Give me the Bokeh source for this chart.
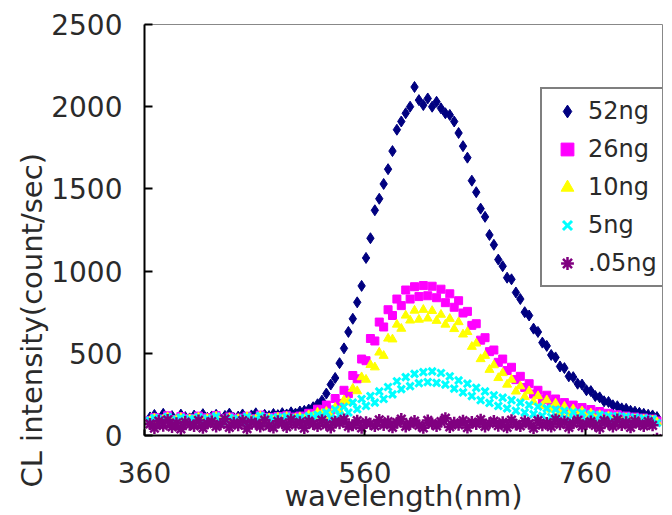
import math
from bokeh.plotting import figure
from bokeh.models import FixedTicker, Legend, LegendItem, Range1d, Title
from bokeh.embed import file_html
from bokeh.resources import INLINE

# wavelength sampling grid (nm)
wavelength = list(range(365, 826, 4))

ng52 = [110,125,98,132,105,118,96,127,112,104,
        121,99,130,108,116,126,101,119,133,107,
        115,128,104,122,135,110,126,118,131,124,
        136,128,141,133,146,150,158,172,190,212,
        255,310,350,440,530,630,710,810,910,1080,
        1200,1370,1440,1530,1620,1730,1860,1910,1960,2000,
        2120,2040,2010,2050,2000,2030,1990,1960,1950,1910,
        1840,1760,1690,1550,1480,1380,1330,1220,1160,1070,
        1030,960,950,870,830,750,730,650,630,565,
        545,490,475,420,410,360,355,315,310,275,
        270,240,232,208,204,184,178,165,162,150,
        145,138,132,126,122,112]

ng26 = [92,110,78,101,120,85,97,115,82,104,
        99,118,86,108,92,121,80,103,113,90,
        106,84,117,95,102,124,88,110,97,115,
        101,120,93,112,118,108,135,128,160,150,
        185,155,225,195,275,255,365,345,465,455,
        590,575,690,660,765,730,830,790,885,830,
        905,845,912,850,908,838,890,808,862,780,
        820,745,755,670,680,580,595,510,520,445,
        465,395,415,340,360,292,315,252,275,218,
        245,195,222,175,200,158,185,142,170,130,
        158,122,146,110,135,100,126,94,118,88,
        112,90,106,86,100,88]

ng10 = [88,104,80,97,112,84,95,108,79,100,
        94,111,83,102,90,115,78,99,107,86,
        101,82,113,92,98,118,85,106,93,110,
        97,114,88,105,112,100,124,115,140,132,
        145,118,170,150,215,205,285,270,355,340,
        430,415,505,485,590,585,675,650,730,700,
        760,705,765,712,758,698,735,675,710,648,
        690,615,630,540,560,465,485,400,428,350,
        380,310,340,268,300,235,270,205,240,180,
        215,158,195,140,176,125,160,112,148,100,
        135,95,125,92,118,88,112,86,106,84,
        100,82,97,84,93,82]

ng5 = [90,106,82,99,113,86,96,109,80,101,
       95,112,84,103,91,116,79,100,108,87,
       102,83,114,93,99,119,86,107,94,111,
       98,115,89,106,108,99,118,110,126,119,
       140,105,158,122,175,140,200,160,222,180,
       240,200,268,222,295,250,330,282,355,300,
       375,318,385,325,390,320,380,310,360,285,
       335,262,315,240,290,215,268,198,245,180,
       230,165,215,150,200,140,185,130,175,120,
       165,112,158,105,150,100,142,92,138,90,
       128,88,125,84,120,82,118,80,115,78,
       110,80,105,78,100,76]

ng005 = [70,45,88,60,95,52,75,40,82,66,
         58,92,47,73,85,55,68,99,50,77,
         63,90,42,80,71,55,94,60,48,86,
         74,52,97,65,80,45,88,70,58,93,
         66,49,84,75,98,55,62,90,47,80,
         72,58,95,64,85,50,78,100,55,70,
         88,62,47,92,73,58,84,105,52,77,
         65,90,48,82,70,96,55,74,88,60,
         80,50,93,67,58,86,72,45,91,63,
         76,54,98,68,83,49,74,92,57,70,
         85,61,46,90,72,55,97,64,80,50,
         88,70,58,84,62,-20]

labels = ["52ng", "26ng", "10ng", "5ng", ".05ng"]
x_ticks = [360, 560, 760]
y_ticks = [0, 500, 1000, 1500, 2000, 2500]

FONT = "DejaVu Sans"

p = figure(width=672, height=515, output_backend="svg", toolbar_location=None,
           x_range=Range1d(360, 830), y_range=Range1d(0, 2500),
           min_border_left=144, min_border_right=10, min_border_top=24,
           min_border_bottom=79)
p.background_fill_color = "white"
p.border_fill_color = "white"
p.outline_line_color = "#888888"
p.outline_line_width = 1
p.xgrid.visible = False
p.ygrid.visible = False

for ax in (p.xaxis[0], p.yaxis[0]):
    ax.axis_line_color = "black"
    ax.axis_line_width = 2
    ax.major_tick_line_color = "black"
    ax.major_tick_line_width = 2
    ax.minor_tick_line_color = None
    ax.major_tick_out = 0
    ax.major_label_text_font = FONT
    ax.major_label_text_font_size = "28px"
    ax.major_label_text_color = "#2a2a2a"
    ax.major_label_text_font_style = "normal"

p.xaxis.ticker = FixedTicker(ticks=x_ticks)
p.yaxis.ticker = FixedTicker(ticks=y_ticks)
p.xaxis.major_tick_in = 6
p.yaxis.major_tick_in = 8
p.xaxis.major_label_standoff = 26
p.yaxis.major_label_standoff = 22

p.xaxis.axis_label = "wavelength(nm)"
p.xaxis.axis_label_text_font = FONT
p.xaxis.axis_label_text_font_size = "29px"
p.xaxis.axis_label_text_font_style = "normal"
p.xaxis.axis_label_text_color = "#2a2a2a"
p.xaxis.axis_label_standoff = -7

r1 = p.scatter(wavelength, ng52, marker="diamond", size=11, color="#000080")
r2 = p.scatter(wavelength, ng26, marker="square", size=8, color="#FF00FF")
r3 = p.scatter(wavelength, ng10, marker="triangle", size=9, color="#FFFF00")
r4 = p.scatter(wavelength, ng5, marker="x", size=10, line_color="#00FFFF", line_width=3)
r5 = p.scatter(wavelength, ng005, marker="asterisk", size=12, line_color="#800080", line_width=2.5)

legend = Legend(items=[LegendItem(label=l, renderers=[r]) for l, r in
                       zip(labels, [r1, r2, r3, r4, r5])],
                location=(396, 148), padding=6, spacing=6,
                label_height=32, glyph_height=32, glyph_width=38,
                label_standoff=2, label_width=92,
                label_text_font=FONT, label_text_font_size="24px",
                label_text_color="#2a2a2a",
                border_line_color="black", border_line_width=2,
                background_fill_color="white", background_fill_alpha=1.0)
p.add_layout(legend, "center")

ytitle = Title(text="CL intensity(count/sec)", align="left", offset=-52,
               text_font=FONT, text_font_size="29px", text_font_style="normal",
               text_color="#2a2a2a", standoff=0)
p.add_layout(ytitle, "left")

open("out.html", "w").write(file_html(p, INLINE))
